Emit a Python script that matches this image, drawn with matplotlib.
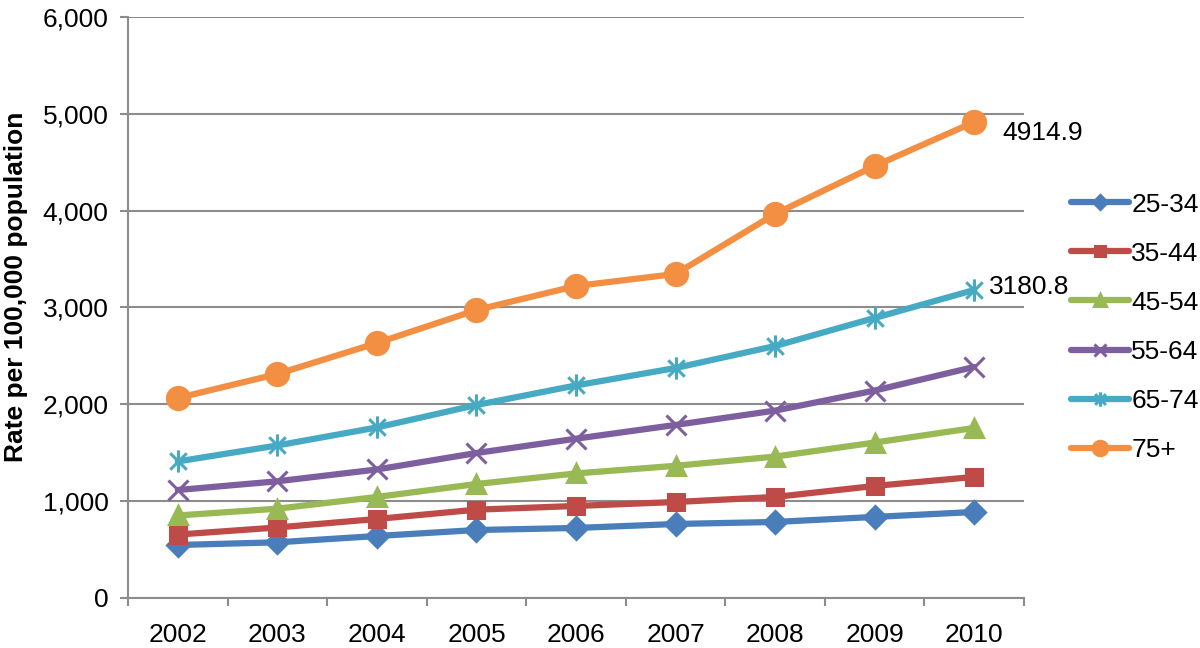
import numpy as np
import matplotlib.pyplot as plt
from matplotlib.path import Path

plt.rcParams['font.family'] = ['Liberation Sans', 'DejaVu Sans']

years = [2002, 2003, 2004, 2005, 2006, 2007, 2008, 2009, 2010]
labels = ["25-34", "35-44", "45-54", "55-64", "65-74", "75+"]
r25 = [547, 575, 640, 702, 723, 764, 785, 837, 888]
r35 = [655, 728, 816, 912, 950, 991, 1043, 1157, 1250]
r45 = [852, 922, 1043, 1177, 1286, 1365, 1460, 1605, 1756]
r55 = [1115, 1205, 1327, 1497, 1645, 1787, 1935, 2142, 2386]
r65 = [1410, 1575, 1761, 1993, 2195, 2375, 2602, 2892, 3180.8]
r75 = [2065, 2313, 2633, 2974, 3222, 3346, 3966, 4461, 4914.9]
serie = [r25, r35, r45, r55, r65, r75]

colori = ["#4A7EBB", "#BE4B48", "#98B954", "#7D5FA0", "#46AAC4", "#F38F43"]

# asterisco stile Excel: x con barra verticale
stella = Path([(-1, -1), (1, 1), (-1, 1), (1, -1), (0, -1.35), (0, 1.35)],
              [Path.MOVETO, Path.LINETO, Path.MOVETO, Path.LINETO, Path.MOVETO, Path.LINETO])
marker = ["D", "s", "^", "x", stella, "o"]
msize = [11, 12, 13, 14, 16, 16]

FS = 19

fig = plt.figure(figsize=(12, 6.48), dpi=100)
ax = fig.add_axes([0.1067, 0.0772, 0.7466, 0.8966])

x = np.arange(len(years))
for s, c, m, ms, lab in zip(serie, colori, marker, msize, labels):
    ax.plot(x, s, color=c, lw=4.5, marker=m, ms=ms, mew=2.2, mec=c, mfc=c, label=lab,
            solid_capstyle="round", zorder=3)

ax.annotate("4914.9", (x[-1], r75[-1]), xytext=(20, -8), textcoords="offset points",
            fontsize=FS, va="center", ha="left")
ax.annotate("3180.8", (x[-1], r65[-1]), xytext=(11, 2), textcoords="offset points",
            fontsize=FS, va="center", ha="left")

ax.set_xlim(-0.5, len(years) - 0.5)
ax.set_ylim(0, 6000)
ax.set_yticks(np.arange(0, 6001, 1000))
ax.set_yticklabels([f"{v:,}" for v in range(0, 6001, 1000)])
ax.set_xticks(x)
ax.set_xticklabels([str(y) for y in years])
ax.set_xticks(np.arange(-0.5, len(years), 1), minor=True)
ax.tick_params(axis="x", which="major", length=0, pad=18, labelsize=FS)
ax.tick_params(axis="x", which="minor", length=6, width=1.5, color="#8C8C8C")
ax.tick_params(axis="y", length=6, width=1.5, color="#8C8C8C", labelsize=FS, pad=8)
ax.grid(axis="y", color="#8C8C8C", lw=1.5, zorder=0)
for sp in ["top", "right"]:
    ax.spines[sp].set_visible(False)
for sp in ["left", "bottom"]:
    ax.spines[sp].set_color("#8C8C8C")
    ax.spines[sp].set_linewidth(1.5)

ax.set_ylabel("Rate per 100,000 population", fontsize=19, fontweight="bold")
ax.yaxis.set_label_coords(-0.112, 0.535)

ax.legend(loc="center left", bbox_to_anchor=(1.052, 0.466), frameon=False, fontsize=FS,
          handlelength=2.2, handletextpad=0.1, labelspacing=0.95, markerscale=0.65,
          borderpad=0, borderaxespad=0)

fig.savefig("out.png", dpi=100)
